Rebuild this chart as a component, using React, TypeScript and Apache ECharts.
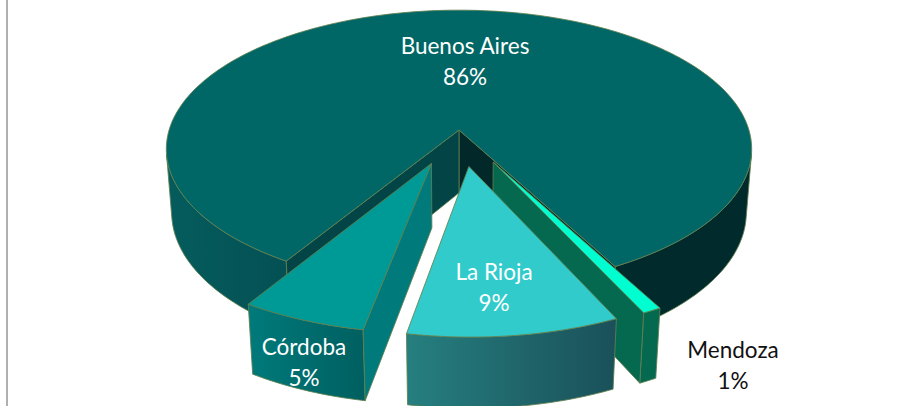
import React, { useEffect, useRef } from "react";
import * as echarts from "echarts";

const categories = ["Buenos Aires", "Córdoba", "La Rioja", "Mendoza"];
const shares = [85.5, 5.2, 8.5, 0.8];
const colors = ["#006766", "#009a96", "#31cbcb", "#00ffd0"];
const radialWallColors: (string | null)[][] = [
  ["#02282a", "#034547"],
  [null, "#007a7b"],
  [null, null],
  ["#04694f", "#04694f"],
];
const rimWallStops: string[][][] = [
  [["#012a2c", "#012a2c"], ["#055c5c", "#045054"]],
  [["#007a7b", "#005f60"]],
  [["#267f7f", "#1a505a"]],
  [["#04694f", "#04694f"]],
];
const explosions = [0, 0.255, 0.26, 0.255];
const labelColors = ["#ffffff", "#ffffff", "#ffffff", "#111111"];
const labelPositions = [[465, 61], [304, 362], [494, 287], [733, 365]];

const FIRST_ANGLE = 24.5;
const ANGLE_STRETCH = 1.18;
const CENTER_X = 459;
const CENTER_Y = 130;
const FOCAL = 1870;
const DIST = 6.45;
const SIN_E = 0.47;
const COS_E = 0.883;
const DEPTH = 0.25;
const EDGE = "rgba(96,128,80,0.85)";

const rad = (d: number) => (d * Math.PI) / 180;

// Angles are measured from the pie's front, increasing towards the right.
function warp(deg: number) {
  const a = rad(deg);
  const w = (Math.atan2(ANGLE_STRETCH * Math.sin(a), Math.cos(a)) * 180) / Math.PI;
  const turns = Math.round((deg - w) / 360);
  return w + turns * 360;
}

function project(x: number, y: number, z: number): [number, number] {
  const w = DIST - y * COS_E - z * SIN_E;
  return [CENTER_X + (FOCAL * x) / w, CENTER_Y + (FOCAL * (y * SIN_E - z * COS_E)) / w];
}

function area(pts: number[][]) {
  let s = 0;
  pts.forEach((p, i) => {
    const q = pts[(i + 1) % pts.length];
    s += p[0] * q[1] - q[0] * p[1];
  });
  return s;
}

function sliceBounds() {
  const total = shares.reduce((a, b) => a + b, 0);
  let acc = FIRST_ANGLE;
  return shares.map((v) => {
    const from = acc;
    acc += (v / total) * 360;
    return [warp(from), warp(acc)];
  });
}

function renderSlice(params: any, api: any) {
  const i = params.dataIndex;
  const [from, to] = sliceBounds()[i];
  const mid = rad((from + to) / 2);
  const ox = explosions[i] * Math.sin(mid);
  const oy = explosions[i] * Math.cos(mid);
  const rim = (deg: number, z: number) =>
    project(ox + Math.sin(rad(deg)), oy + Math.cos(rad(deg)), z);
  const hub = (z: number) => project(ox, oy, z);

  const steps = Math.max(2, Math.ceil((to - from) / 1));
  const angles: number[] = [];
  for (let k = 0; k <= steps; k++) angles.push(from + ((to - from) * k) / steps);

  const children: any[] = [];

  // Outer walls: only the stretches turned towards the viewer.
  const runs: number[][] = [];
  let current: number[] | null = null;
  for (let k = 0; k < steps; k++) {
    const quad = [rim(angles[k], 0), rim(angles[k + 1], 0), rim(angles[k + 1], -DEPTH), rim(angles[k], -DEPTH)];
    if (area(quad) > 0) {
      if (!current) {
        current = [angles[k]];
        runs.push(current);
      }
      current.push(angles[k + 1]);
    } else {
      current = null;
    }
  }
  runs.forEach((run, r) => {
    const stops = rimWallStops[i][Math.min(r, rimWallStops[i].length - 1)];
    const pts = [...run.map((a) => rim(a, 0)), ...[...run].reverse().map((a) => rim(a, -DEPTH))];
    children.push({
      type: "polygon",
      shape: { points: pts },
      style: {
        fill: new echarts.graphic.LinearGradient(0, 0, 1, 0, [
          { offset: 0, color: stops[0] },
          { offset: 1, color: stops[1] },
        ]),
        stroke: EDGE,
        lineWidth: 1,
      },
    });
  });

  // Radial walls along the two cut faces of the slice.
  const walls = [
    [hub(0), rim(from, 0), rim(from, -DEPTH), hub(-DEPTH)],
    [rim(to, 0), hub(0), hub(-DEPTH), rim(to, -DEPTH)],
  ];
  walls.forEach((quad, w) => {
    const fill = radialWallColors[i][w];
    if (fill && area(quad) > 0) {
      children.push({
        type: "polygon",
        shape: { points: quad },
        style: { fill, stroke: EDGE, lineWidth: 1 },
      });
    }
  });

  // Top face.
  children.push({
    type: "polygon",
    shape: { points: [hub(0), ...angles.map((a) => rim(a, 0))] },
    style: { fill: colors[i], stroke: EDGE, lineWidth: 1 },
  });

  children.push({
    type: "text",
    x: labelPositions[i][0],
    y: labelPositions[i][1],
    z2: 10,
    style: {
      text: `${categories[i]}\n${Math.round(api.value(0))}%`,
      fill: labelColors[i],
      fontFamily: "Lato",
      fontSize: 22.5,
      lineHeight: 30.5,
      align: "center",
      verticalAlign: "middle",
    },
  });

  return { type: "group", children };
}

// Paint order: back slice first, La Rioja last because it overlaps Mendoza.
const paintOrder = [0, 1, 3, 2];

export default function App() {
  const ref = useRef<HTMLDivElement>(null);
  useEffect(() => {
    const chart = echarts.init(ref.current!, undefined, { renderer: "svg" });
    chart.setOption({
      animation: false,
      backgroundColor: "#ffffff",
      graphic: [
        {
          type: "line",
          shape: { x1: 7, y1: 0, x2: 7, y2: 406 },
          style: { stroke: "#969696", lineWidth: 1.5 },
          silent: true,
        },
      ],
      series: paintOrder.map((idx) => ({
        type: "custom",
        name: categories[idx],
        coordinateSystem: "none",
        silent: true,
        clip: false,
        data: shares.map((v, j) => ({ value: [v], name: categories[j] })),
        renderItem: (params: any, api: any) =>
          params.dataIndex === idx ? renderSlice(params, api) : { type: "group", children: [] },
      })),
    });
    return () => chart.dispose();
  }, []);
  return <div ref={ref} style={{ position: "fixed", left: 0, top: 0, width: 897, height: 406 }} />;
}
